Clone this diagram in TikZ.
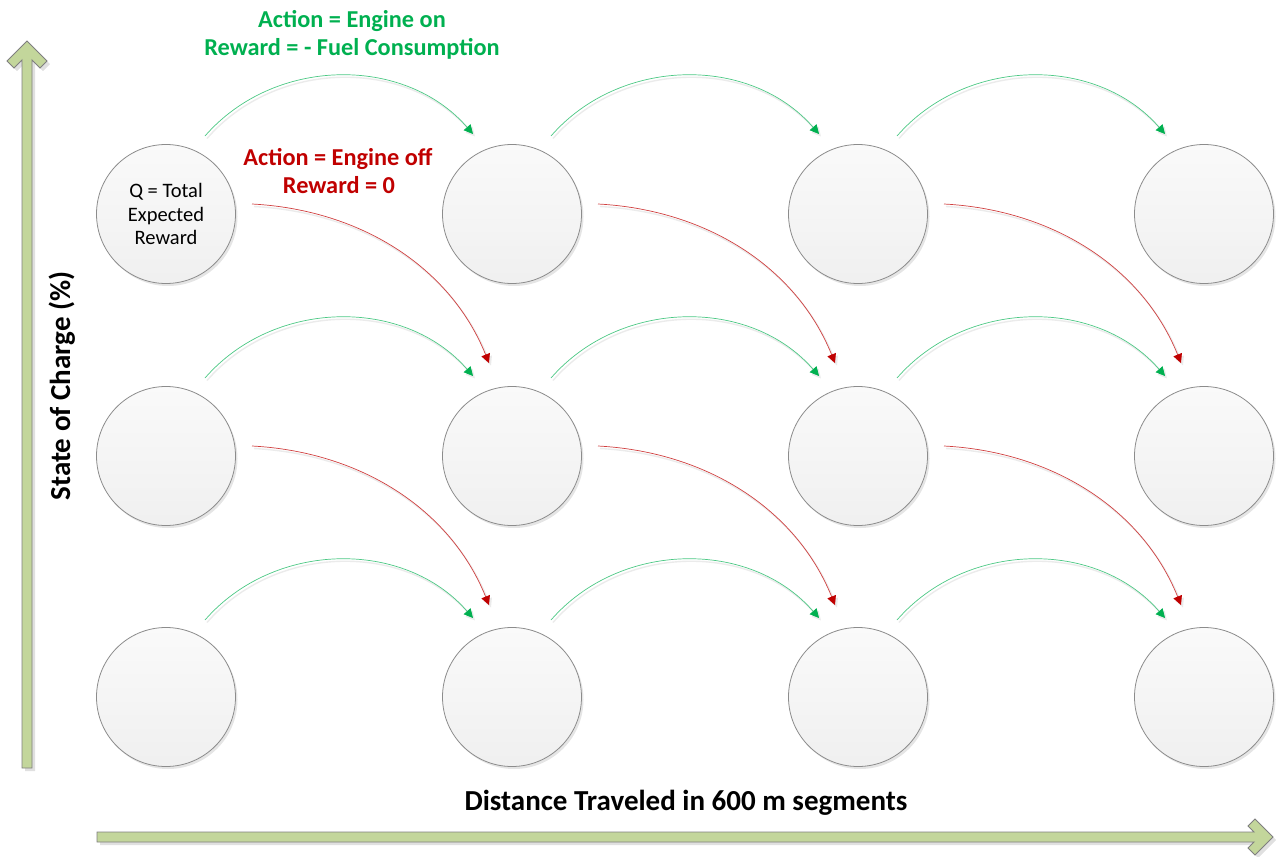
\documentclass[tikz,border=0pt]{standalone}
\usepackage{fontspec}
\setmainfont{Carlito}
\usetikzlibrary{arrows.meta,shadows}
\definecolor{agreen}{HTML}{00B050}
\definecolor{ared}{HTML}{C00000}
\definecolor{axfill}{HTML}{C3D69B}
\definecolor{axedge}{HTML}{7F7F7F}
\definecolor{circedge}{HTML}{8C8C8C}
\begin{document}
\begin{tikzpicture}[x=1pt,y=1pt,
  state/.style={circle, draw=circedge, line width=0.8pt, minimum size=139pt, inner sep=0pt,
    top color=black!2, bottom color=black!6,
    drop shadow={shadow xshift=2pt, shadow yshift=-2.5pt, fill=black, opacity=0.10},
    align=center, font=\fontsize{20.5}{23.5}\selectfont},
  axisarrow/.style={fill=axfill, draw=axedge, line width=0.9pt},
  axisshadow/.style={fill=black!12, draw=none},
  gline/.style={draw=agreen!70, line width=0.7pt, -{Triangle[length=9pt,width=9pt,color=agreen]}},
  rline/.style={draw=ared!75, line width=0.7pt, -{Triangle[length=9pt,width=9pt,color=ared]}},
  lshadow/.style={draw=black!8, line width=1.4pt, -{Triangle[length=9pt,width=9pt]},
    transform canvas={shift={(2pt,-2.5pt)}}},
  gtext/.style={text=agreen, font=\bfseries\fontsize{24.3}{28}\selectfont, anchor=base},
  rtext/.style={text=ared, font=\bfseries\fontsize{24.3}{28}\selectfont, anchor=base},
  axtext/.style={font=\bfseries\fontsize{29}{33}\selectfont, anchor=base}
]
\useasboundingbox (0,0) rectangle (1278,-857);

% axis arrows (shadows first)
\begin{scope}[shift={(3,-3)}]
\fill[axisshadow] (22,-768) -- (22,-60) -- (14,-68) -- (7,-61) -- (27,-41) -- (47,-61) -- (40,-68) -- (32,-60) -- (32,-768) -- cycle;
\fill[axisshadow] (97,-832) -- (1254,-832) -- (1248,-826) -- (1255,-819) -- (1273,-837) -- (1255,-855) -- (1248,-848) -- (1254,-842) -- (97,-842) -- cycle;
\end{scope}
\path[axisarrow] (22,-768) -- (22,-60) -- (14,-68) -- (7,-61) -- (27,-41) -- (47,-61) -- (40,-68) -- (32,-60) -- (32,-768) -- cycle;
\path[axisarrow] (97,-832) -- (1254,-832) -- (1248,-826) -- (1255,-819) -- (1273,-837) -- (1255,-855) -- (1248,-848) -- (1254,-842) -- (97,-842) -- cycle;

% axis labels
\node[axtext] (xlab) at (686,-810) {Distance Traveled in 600 m segments};
\node[axtext, rotate=90] (ylab) at (70,-386) {State of Charge (\%)};

% states
\foreach \c/\x in {1/166,2/512,3/858,4/1204}{
  \foreach \r/\y in {1/214,2/456,3/697}{
    \ifnum\c\r=11
      \node[state] (s\c\r) at (\x,-\y) {Q = Total\\Expected\\Reward};
    \else
      \node[state] (s\c\r) at (\x,-\y) {};
    \fi
  }
}

% engine on (green) transitions
\foreach \c in {0,1,2}{
  \foreach \r in {0,1,2}{
    \coordinate (gs\c\r) at ({205+346*\c},{-(136+242*\r)});
    \coordinate (ge\c\r) at ({473+346*\c},{-(134+242*\r)});
    \draw[lshadow] (gs\c\r) to[out=49,in=131] (ge\c\r);
    \draw[gline] (gs\c\r) to[out=49,in=131] (ge\c\r);
  }
}
% engine off (red) transitions
\foreach \c in {0,1,2}{
  \foreach \r in {0,1}{
    \coordinate (rs\c\r) at ({252+346*\c},{-(204+242*\r)});
    \coordinate (re\c\r) at ({489+346*\c},{-(363+242*\r)});
    \draw[lshadow] (rs\c\r) to[out=-3,in=112,looseness=0.95] (re\c\r);
    \draw[rline] (rs\c\r) to[out=-3,in=112,looseness=0.95] (re\c\r);
  }
}

% labels
\node[gtext] (on1) at (352,-27) {Action = Engine on};
\node[gtext] (on2) at (352,-55) {Reward = - Fuel Consumption};
\node[rtext] (off1) at (338,-165) {Action = Engine off};
\node[rtext] (off2) at (339,-193) {Reward = 0};
\end{tikzpicture}
\end{document}
